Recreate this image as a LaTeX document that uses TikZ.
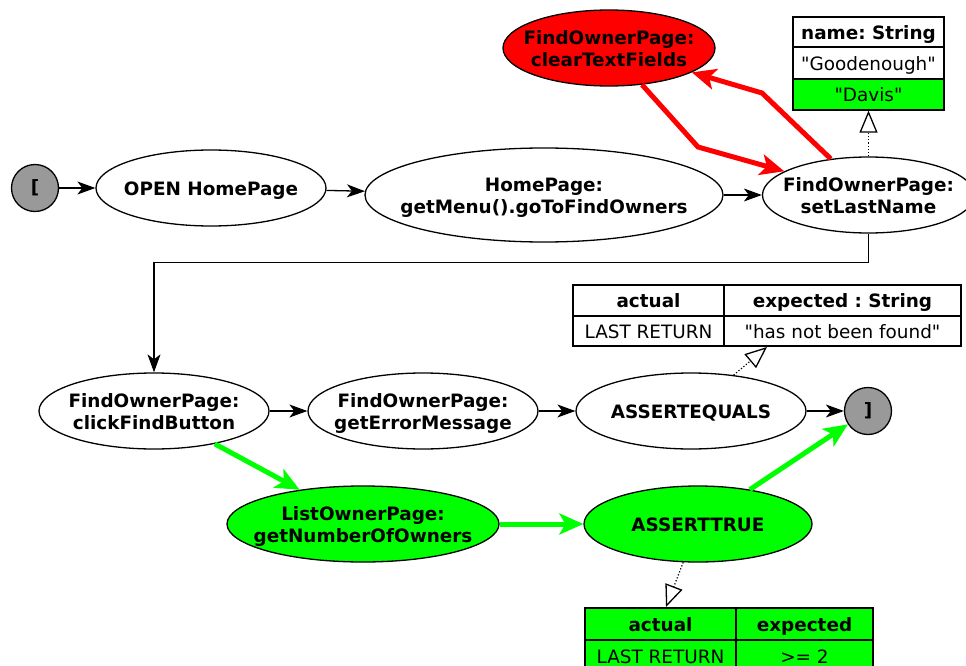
\documentclass[tikz,border=0pt]{standalone}
\usepackage{fontspec}
\setmainfont{DejaVu Sans}
\usetikzlibrary{shapes.geometric,arrows.meta}
\definecolor{stategray}{RGB}{153,153,153}
\definecolor{okgreen}{RGB}{0,255,0}
\definecolor{badred}{RGB}{255,0,0}
\newcommand{\qt}[1]{\textquotedbl#1\textquotedbl}
% label of fixed-size ellipse: the text takes no width, so the shape keeps its size;
% it is set a little low while the box keeps its natural height and depth
\newcommand{\lbl}[1]{\raisebox{-3pt}[\height][\depth]{\makebox[0pt]{\begin{tabular}{@{}c@{}}#1\end{tabular}}}}
\frenchspacing
\begin{document}
\begin{tikzpicture}[x=1pt,y=-1pt,
  txt/.style={font=\fontsize{18.4}{22}\selectfont},
  act/.style={ellipse, draw, line width=1.3pt, inner sep=0pt,
    font=\fontsize{18.4}{22}\selectfont\bfseries, minimum width=230pt, minimum height=76pt},
  term/.style={circle, draw, line width=1.3pt, fill=stategray, inner sep=0pt,
    minimum size=47pt, font=\fontsize{18.4}{22}\selectfont\bfseries},
  cell/.style={rectangle, draw, line width=1.3pt, inner sep=0pt, txt,
    text height=18.5pt, text depth=4pt},
  hcell/.style={cell, font=\fontsize{18.4}{22}\selectfont\bfseries},
  flow/.style={line width=1.3pt, -{Stealth[length=18pt,width=13pt,inset=5pt]}},
  redflow/.style={draw=badred, line width=5pt, line join=miter,
    -{Stealth[length=24pt,width=21pt,inset=6pt]}},
  greenflow/.style={draw=okgreen, line width=5pt,
    -{Stealth[length=24pt,width=21pt,inset=6pt]}},
  bind/.style={dotted, line width=1.2pt,
    -{Triangle[open,length=22pt,width=18pt,line width=1.3pt]}},
]
\clip (0,0) rectangle (966,666);
\useasboundingbox (0,0) rectangle (966,666);

% --- first row of actions ---
\node[term] (start) at (35,188) {[};
\node[act] (open) at (211,188) {\lbl{OPEN HomePage}};
\node[act, minimum width=358pt, minimum height=94pt] (home) at (544,195)
  {\lbl{HomePage:\\getMenu().goToFindOwners}};
\node[act, minimum width=212pt] (sln) at (868.5,195) {\lbl{FindOwnerPage:\\setLastName}};
\node[act, fill=badred, minimum width=212pt] (ctf) at (609,48)
  {\lbl{FindOwnerPage:\\clearTextFields}};

% --- value table of setLastName ---
\node[hcell, minimum width=151pt, minimum height=30pt] (nameH) at (868.5,32) {name: String};
\node[cell, minimum width=151pt, minimum height=32pt] (nameA) at (868.5,63) {\qt{Goodenough}};
\node[cell, fill=okgreen, minimum width=151pt, minimum height=31pt] (nameB) at (868.5,94.5) {\qt{Davis}};

% --- second row of actions ---
\node[act] (cfb) at (154,411) {\lbl{FindOwnerPage:\\clickFindButton}};
\node[act] (gem) at (423,411) {\lbl{FindOwnerPage:\\getErrorMessage}};
\node[act] (ae) at (691,411) {\lbl{ASSERTEQUALS}};
\node[term] (stop) at (868,411) {]};

% --- assertion table of ASSERTEQUALS ---
\node[hcell, minimum width=151pt, minimum height=31pt] (aeH1) at (648.5,300.5) {actual};
\node[hcell, minimum width=237pt, minimum height=31pt] (aeH2) at (842.5,300.5) {expected : String};
\node[cell, minimum width=151pt, minimum height=30pt] (aeV1) at (648.5,331) {LAST RETURN};
\node[cell, minimum width=237pt, minimum height=30pt] (aeV2) at (842.5,331) {\qt{has not been found}};
\coordinate (aeTip) at (767,347);

% --- third row of actions ---
\node[act, fill=okgreen, minimum width=272pt] (lo) at (363,524)
  {\lbl{ListOwnerPage:\\getNumberOfOwners}};
\node[act, fill=okgreen, minimum width=228pt] (at) at (698,524) {\lbl{ASSERTTRUE}};

% --- assertion table of ASSERTTRUE ---
\node[hcell, fill=okgreen, minimum width=151pt, minimum height=32pt] (atH1) at (660.5,624) {actual};
\node[hcell, fill=okgreen, minimum width=137pt, minimum height=32pt] (atH2) at (804.5,624) {expected};
\node[cell, fill=okgreen, minimum width=151pt, minimum height=32pt] (atV1) at (660.5,656) {LAST RETURN};
\node[cell, fill=okgreen, minimum width=137pt, minimum height=32pt] (atV2) at (804.5,656) {>= 2};
\coordinate (atTip) at (666,607);

% --- control flow ---
\draw[flow] (start) -- (open);
\draw[flow] (open) -- (home);
\draw[flow] (home) -- (sln);
\draw[flow] (sln.south) -- ++(0,29) -| (cfb.north);
\draw[flow] (cfb) -- (gem);
\draw[flow] (gem) -- (ae);
\draw[flow] (ae) -- (stop);

% --- failing detour ---
\draw[redflow] (ctf) -- (698,147) -- (sln);
\draw[redflow] (sln) -- (762,93) -- (ctf);

% --- passing branch ---
\draw[greenflow] (cfb) -- (lo);
\draw[greenflow] (lo) -- (at);
\draw[greenflow] (at) -- (stop);

% --- data bindings ---
\draw[bind] (sln) -- (nameB.south);
\draw[bind] (ae) -- (aeTip);
\draw[bind] (at) -- (atTip);
\end{tikzpicture}
\end{document}
